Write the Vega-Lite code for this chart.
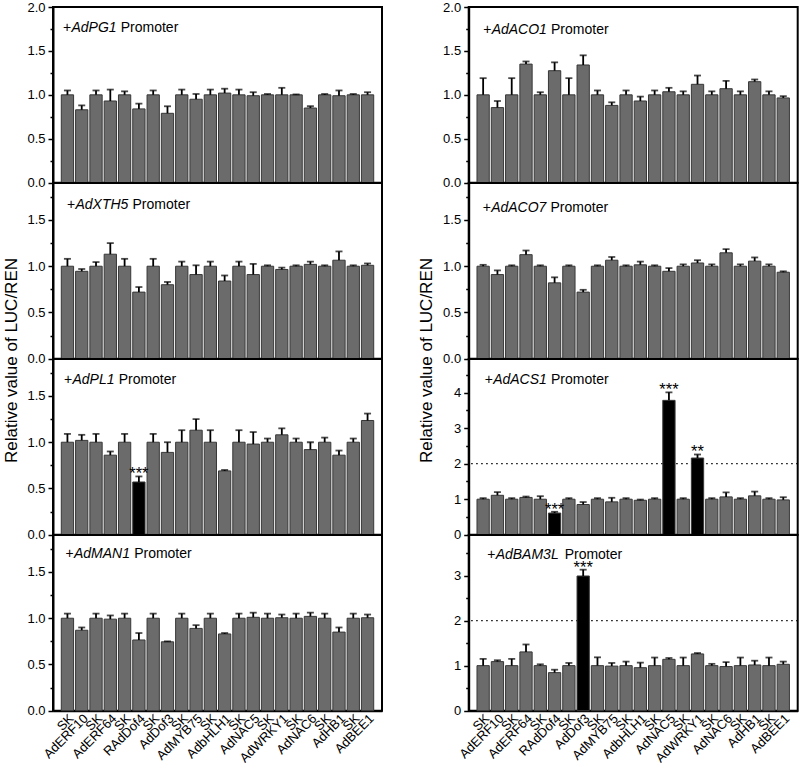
{
 "$schema": "https://vega.github.io/schema/vega-lite/v6.json",
 "background": "white",
 "padding": {"left": 0, "top": 0, "right": 0, "bottom": 0},
 "columns": 2,
 "spacing": {"row": 0, "column": 86.7},
 "bounds": "flush",
 "datasets": {
  "PG1": [{"i":0,"v":1.0,"hi":1.05},{"i":1,"v":0.83,"hi":0.88},{"i":2,"v":1.0,"hi":1.05},{"i":3,"v":0.93,"hi":1.06},{"i":4,"v":1.0,"hi":1.04},{"i":5,"v":0.84,"hi":0.90},{"i":6,"v":1.0,"hi":1.05},{"i":7,"v":0.79,"hi":0.87},{"i":8,"v":1.0,"hi":1.06},{"i":9,"v":0.95,"hi":1.01},{"i":10,"v":1.0,"hi":1.06},{"i":11,"v":1.02,"hi":1.07},{"i":12,"v":1.0,"hi":1.06},{"i":13,"v":0.99,"hi":1.03},{"i":14,"v":1.0,"hi":1.01},{"i":15,"v":1.0,"hi":1.08},{"i":16,"v":1.0,"hi":1.005},{"i":17,"v":0.85,"hi":0.87},{"i":18,"v":1.0,"hi":1.01},{"i":19,"v":0.99,"hi":1.05},{"i":20,"v":1.0,"hi":1.01},{"i":21,"v":1.0,"hi":1.03}],
  "XTH5": [{"i":0,"v":1.0,"hi":1.08},{"i":1,"v":0.945,"hi":0.97},{"i":2,"v":1.0,"hi":1.045},{"i":3,"v":1.13,"hi":1.25},{"i":4,"v":1.0,"hi":1.08},{"i":5,"v":0.72,"hi":0.775},{"i":6,"v":1.0,"hi":1.08},{"i":7,"v":0.80,"hi":0.83},{"i":8,"v":1.0,"hi":1.05},{"i":9,"v":0.91,"hi":1.01},{"i":10,"v":1.0,"hi":1.05},{"i":11,"v":0.84,"hi":0.90},{"i":12,"v":1.0,"hi":1.05},{"i":13,"v":0.91,"hi":1.025},{"i":14,"v":1.0,"hi":1.01},{"i":15,"v":0.965,"hi":0.985},{"i":16,"v":1.0,"hi":1.01},{"i":17,"v":1.02,"hi":1.05},{"i":18,"v":1.0,"hi":1.01},{"i":19,"v":1.065,"hi":1.16},{"i":20,"v":1.0,"hi":1.01},{"i":21,"v":1.01,"hi":1.03}],
  "PL1": [{"i":0,"v":1.0,"hi":1.09},{"i":1,"v":1.02,"hi":1.08},{"i":2,"v":1.0,"hi":1.09},{"i":3,"v":0.86,"hi":0.90},{"i":4,"v":1.0,"hi":1.09},{"i":5,"v":0.57,"hi":0.63,"s":"***"},{"i":6,"v":1.0,"hi":1.09},{"i":7,"v":0.89,"hi":1.0},{"i":8,"v":1.0,"hi":1.13},{"i":9,"v":1.13,"hi":1.25},{"i":10,"v":1.0,"hi":1.13},{"i":11,"v":0.69,"hi":0.70},{"i":12,"v":1.0,"hi":1.13},{"i":13,"v":0.98,"hi":1.11},{"i":14,"v":1.0,"hi":1.04},{"i":15,"v":1.08,"hi":1.15},{"i":16,"v":1.0,"hi":1.04},{"i":17,"v":0.92,"hi":1.0},{"i":18,"v":1.0,"hi":1.05},{"i":19,"v":0.86,"hi":0.91},{"i":20,"v":1.0,"hi":1.04},{"i":21,"v":1.235,"hi":1.31}],
  "MAN1": [{"i":0,"v":1.0,"hi":1.05},{"i":1,"v":0.87,"hi":0.90},{"i":2,"v":1.0,"hi":1.05},{"i":3,"v":0.99,"hi":1.03},{"i":4,"v":1.0,"hi":1.05},{"i":5,"v":0.765,"hi":0.84},{"i":6,"v":1.0,"hi":1.05},{"i":7,"v":0.745,"hi":0.75},{"i":8,"v":1.0,"hi":1.05},{"i":9,"v":0.89,"hi":0.925},{"i":10,"v":1.0,"hi":1.05},{"i":11,"v":0.83,"hi":0.84},{"i":12,"v":1.0,"hi":1.05},{"i":13,"v":1.01,"hi":1.06},{"i":14,"v":1.0,"hi":1.05},{"i":15,"v":1.005,"hi":1.04},{"i":16,"v":1.0,"hi":1.05},{"i":17,"v":1.02,"hi":1.06},{"i":18,"v":1.0,"hi":1.05},{"i":19,"v":0.85,"hi":0.90},{"i":20,"v":1.0,"hi":1.05},{"i":21,"v":1.005,"hi":1.04}],
  "ACO1": [{"i":0,"v":1.0,"hi":1.19},{"i":1,"v":0.855,"hi":0.93},{"i":2,"v":1.0,"hi":1.19},{"i":3,"v":1.35,"hi":1.38},{"i":4,"v":1.0,"hi":1.03},{"i":5,"v":1.275,"hi":1.37},{"i":6,"v":1.0,"hi":1.19},{"i":7,"v":1.34,"hi":1.45},{"i":8,"v":1.0,"hi":1.05},{"i":9,"v":0.88,"hi":0.915},{"i":10,"v":1.0,"hi":1.05},{"i":11,"v":0.93,"hi":0.98},{"i":12,"v":1.0,"hi":1.05},{"i":13,"v":1.035,"hi":1.08},{"i":14,"v":1.0,"hi":1.04},{"i":15,"v":1.12,"hi":1.22},{"i":16,"v":1.0,"hi":1.04},{"i":17,"v":1.07,"hi":1.16},{"i":18,"v":1.0,"hi":1.04},{"i":19,"v":1.15,"hi":1.175},{"i":20,"v":1.0,"hi":1.04},{"i":21,"v":0.965,"hi":0.985}],
  "ACO7": [{"i":0,"v":1.0,"hi":1.015},{"i":1,"v":0.91,"hi":0.955},{"i":2,"v":1.0,"hi":1.01},{"i":3,"v":1.125,"hi":1.17},{"i":4,"v":1.0,"hi":1.01},{"i":5,"v":0.82,"hi":0.88},{"i":6,"v":1.0,"hi":1.01},{"i":7,"v":0.72,"hi":0.745},{"i":8,"v":1.0,"hi":1.01},{"i":9,"v":1.065,"hi":1.10},{"i":10,"v":1.0,"hi":1.01},{"i":11,"v":1.015,"hi":1.05},{"i":12,"v":1.0,"hi":1.01},{"i":13,"v":0.945,"hi":0.98},{"i":14,"v":1.0,"hi":1.02},{"i":15,"v":1.035,"hi":1.065},{"i":16,"v":1.0,"hi":1.02},{"i":17,"v":1.145,"hi":1.185},{"i":18,"v":1.0,"hi":1.02},{"i":19,"v":1.055,"hi":1.095},{"i":20,"v":1.0,"hi":1.02},{"i":21,"v":0.935,"hi":0.945}],
  "ACS1": [{"i":0,"v":1.0,"hi":1.03},{"i":1,"v":1.11,"hi":1.2},{"i":2,"v":1.0,"hi":1.03},{"i":3,"v":1.05,"hi":1.075},{"i":4,"v":1.0,"hi":1.085},{"i":5,"v":0.61,"hi":0.645,"s":"***"},{"i":6,"v":1.0,"hi":1.03},{"i":7,"v":0.85,"hi":0.92},{"i":8,"v":1.0,"hi":1.03},{"i":9,"v":0.925,"hi":1.04},{"i":10,"v":1.0,"hi":1.03},{"i":11,"v":0.97,"hi":0.99},{"i":12,"v":1.0,"hi":1.03},{"i":13,"v":3.785,"hi":4.01,"s":"***"},{"i":14,"v":1.0,"hi":1.03},{"i":15,"v":2.16,"hi":2.26,"s":"**"},{"i":16,"v":1.0,"hi":1.03},{"i":17,"v":1.065,"hi":1.19},{"i":18,"v":1.0,"hi":1.03},{"i":19,"v":1.095,"hi":1.215},{"i":20,"v":1.0,"hi":1.03},{"i":21,"v":0.98,"hi":1.056}],
  "BAM3L": [{"i":0,"v":1.0,"hi":1.15},{"i":1,"v":1.09,"hi":1.12},{"i":2,"v":1.0,"hi":1.15},{"i":3,"v":1.305,"hi":1.47},{"i":4,"v":1.0,"hi":1.03},{"i":5,"v":0.845,"hi":0.91},{"i":6,"v":1.0,"hi":1.06},{"i":7,"v":2.99,"hi":3.13,"s":"***"},{"i":8,"v":1.0,"hi":1.185},{"i":9,"v":0.99,"hi":1.06},{"i":10,"v":1.0,"hi":1.09},{"i":11,"v":0.955,"hi":1.067},{"i":12,"v":1.0,"hi":1.18},{"i":13,"v":1.14,"hi":1.17},{"i":14,"v":1.0,"hi":1.18},{"i":15,"v":1.26,"hi":1.28},{"i":16,"v":1.0,"hi":1.04},{"i":17,"v":0.98,"hi":1.08},{"i":18,"v":1.0,"hi":1.18},{"i":19,"v":1.015,"hi":1.11},{"i":20,"v":1.0,"hi":1.18},{"i":21,"v":1.03,"hi":1.09}]
 },
 "concat": [
  {"width":329,"height":175.7,"data":{"name":"PG1"},"resolve":{"axis":{"y":"independent"}},
   "layer":[
    {"mark":{"type":"bar","stroke":"#383838","strokeWidth":1},
     "encoding":{"x":{"field":"i","type":"ordinal","scale":{"paddingInner":0.14,"paddingOuter":0.58},"axis":null},
      "y":{"field":"v","type":"quantitative","scale":{"domain":[0,2],"nice":false},"axis":{"orient":"left","values":[0,0.5,1,1.5,2],"format":".1f","title":null}},
      "fill":{"condition":{"test":"datum.s","value":"#000000"},"value":"#6b6b6b"}}},
    {"mark":{"type":"rule","color":"#000","strokeWidth":1.8},
     "encoding":{"x":{"field":"i","type":"ordinal"},"y":{"field":"v","type":"quantitative","axis":{"orient":"left","values":[0.25,0.75,1.25,1.75],"labels":false,"domain":false,"tickSize":3,"title":null}},"y2":{"field":"hi"}}},
    {"mark":{"type":"tick","color":"#000","thickness":1.8,"size":7},
     "encoding":{"x":{"field":"i","type":"ordinal"},"y":{"field":"hi","type":"quantitative","axis":null}}},
    {"data":{"values":[{"g":"AdPG1"}]},"mark":{"type":"text","text":"+","align":"left","fontSize":14,"dx":-4.5},
     "encoding":{"x":{"datum":0,"type":"ordinal"},"y":{"datum":1.715,"type":"quantitative","axis":null}}},
    {"data":{"values":[{"g":"AdPG1"}]},"mark":{"type":"text","align":"left","fontSize":14,"fontStyle":"italic","dx":4},
     "encoding":{"x":{"datum":0,"type":"ordinal"},"y":{"datum":1.715,"type":"quantitative","axis":null},"text":{"field":"g"}}},
    {"data":{"values":[{"g":"AdPG1"}]},"mark":{"type":"text","text":"Promoter","align":"left","fontSize":14,"dx":53.3},
     "encoding":{"x":{"datum":0,"type":"ordinal"},"y":{"datum":1.715,"type":"quantitative","axis":null}}}
   ]},
  {"width":329,"height":175.7,"data":{"name":"ACO1"},"resolve":{"axis":{"y":"independent"}},
   "layer":[
    {"mark":{"type":"bar","stroke":"#383838","strokeWidth":1},
     "encoding":{"x":{"field":"i","type":"ordinal","scale":{"paddingInner":0.14,"paddingOuter":0.58},"axis":null},
      "y":{"field":"v","type":"quantitative","scale":{"domain":[0,2],"nice":false},"axis":{"orient":"left","values":[0,0.5,1,1.5,2],"format":".1f","title":null}},
      "fill":{"condition":{"test":"datum.s","value":"#000000"},"value":"#6b6b6b"}}},
    {"mark":{"type":"rule","color":"#000","strokeWidth":1.8},
     "encoding":{"x":{"field":"i","type":"ordinal"},"y":{"field":"v","type":"quantitative","axis":{"orient":"left","values":[0.25,0.75,1.25,1.75],"labels":false,"domain":false,"tickSize":3,"title":null}},"y2":{"field":"hi"}}},
    {"mark":{"type":"tick","color":"#000","thickness":1.8,"size":7},
     "encoding":{"x":{"field":"i","type":"ordinal"},"y":{"field":"hi","type":"quantitative","axis":null}}},
    {"data":{"values":[{"g":"AdACO1"}]},"mark":{"type":"text","text":"+","align":"left","fontSize":14,"dx":0},
     "encoding":{"x":{"datum":0,"type":"ordinal"},"y":{"datum":1.69,"type":"quantitative","axis":null}}},
    {"data":{"values":[{"g":"AdACO1"}]},"mark":{"type":"text","align":"left","fontSize":14,"fontStyle":"italic","dx":8.5},
     "encoding":{"x":{"datum":0,"type":"ordinal"},"y":{"datum":1.69,"type":"quantitative","axis":null},"text":{"field":"g"}}},
    {"data":{"values":[{"g":"AdACO1"}]},"mark":{"type":"text","text":"Promoter","align":"left","fontSize":14,"dx":67.9},
     "encoding":{"x":{"datum":0,"type":"ordinal"},"y":{"datum":1.69,"type":"quantitative","axis":null}}}
   ]},
  {"width":329,"height":175.7,"data":{"name":"XTH5"},"resolve":{"axis":{"y":"independent"}},
   "layer":[
    {"mark":{"type":"bar","stroke":"#383838","strokeWidth":1},
     "encoding":{"x":{"field":"i","type":"ordinal","scale":{"paddingInner":0.14,"paddingOuter":0.58},"axis":null},
      "y":{"field":"v","type":"quantitative","scale":{"domain":[0,1.9],"nice":false},"axis":{"orient":"left","values":[0,0.5,1,1.5],"format":".1f","title":null}},
      "fill":{"condition":{"test":"datum.s","value":"#000000"},"value":"#6b6b6b"}}},
    {"mark":{"type":"rule","color":"#000","strokeWidth":1.8},
     "encoding":{"x":{"field":"i","type":"ordinal"},"y":{"field":"v","type":"quantitative","axis":{"orient":"left","values":[0.25,0.75,1.25,1.75],"labels":false,"domain":false,"tickSize":3,"title":null}},"y2":{"field":"hi"}}},
    {"mark":{"type":"tick","color":"#000","thickness":1.8,"size":7},
     "encoding":{"x":{"field":"i","type":"ordinal"},"y":{"field":"hi","type":"quantitative","axis":null}}},
    {"data":{"values":[{"g":"AdXTH5"}]},"mark":{"type":"text","text":"+","align":"left","fontSize":14,"dx":-0.5},
     "encoding":{"x":{"datum":0,"type":"ordinal"},"y":{"datum":1.617,"type":"quantitative","axis":null}}},
    {"data":{"values":[{"g":"AdXTH5"}]},"mark":{"type":"text","align":"left","fontSize":14,"fontStyle":"italic","dx":8},
     "encoding":{"x":{"datum":0,"type":"ordinal"},"y":{"datum":1.617,"type":"quantitative","axis":null},"text":{"field":"g"}}},
    {"data":{"values":[{"g":"AdXTH5"}]},"mark":{"type":"text","text":"Promoter","align":"left","fontSize":14,"dx":65.1},
     "encoding":{"x":{"datum":0,"type":"ordinal"},"y":{"datum":1.617,"type":"quantitative","axis":null}}}
   ]},
  {"width":329,"height":175.7,"data":{"name":"ACO7"},"resolve":{"axis":{"y":"independent"}},
   "layer":[
    {"mark":{"type":"bar","stroke":"#383838","strokeWidth":1},
     "encoding":{"x":{"field":"i","type":"ordinal","scale":{"paddingInner":0.14,"paddingOuter":0.58},"axis":null},
      "y":{"field":"v","type":"quantitative","scale":{"domain":[0,1.9],"nice":false},"axis":{"orient":"left","values":[0,0.5,1,1.5],"format":".1f","title":null}},
      "fill":{"condition":{"test":"datum.s","value":"#000000"},"value":"#6b6b6b"}}},
    {"mark":{"type":"rule","color":"#000","strokeWidth":1.8},
     "encoding":{"x":{"field":"i","type":"ordinal"},"y":{"field":"v","type":"quantitative","axis":{"orient":"left","values":[0.25,0.75,1.25,1.75],"labels":false,"domain":false,"tickSize":3,"title":null}},"y2":{"field":"hi"}}},
    {"mark":{"type":"tick","color":"#000","thickness":1.8,"size":7},
     "encoding":{"x":{"field":"i","type":"ordinal"},"y":{"field":"hi","type":"quantitative","axis":null}}},
    {"data":{"values":[{"g":"AdACO7"}]},"mark":{"type":"text","text":"+","align":"left","fontSize":14,"dx":-0.5},
     "encoding":{"x":{"datum":0,"type":"ordinal"},"y":{"datum":1.59,"type":"quantitative","axis":null}}},
    {"data":{"values":[{"g":"AdACO7"}]},"mark":{"type":"text","align":"left","fontSize":14,"fontStyle":"italic","dx":8},
     "encoding":{"x":{"datum":0,"type":"ordinal"},"y":{"datum":1.59,"type":"quantitative","axis":null},"text":{"field":"g"}}},
    {"data":{"values":[{"g":"AdACO7"}]},"mark":{"type":"text","text":"Promoter","align":"left","fontSize":14,"dx":67.4},
     "encoding":{"x":{"datum":0,"type":"ordinal"},"y":{"datum":1.59,"type":"quantitative","axis":null}}}
   ]},
  {"width":329,"height":175.7,"data":{"name":"PL1"},"resolve":{"axis":{"y":"independent"}},
   "layer":[
    {"mark":{"type":"bar","stroke":"#383838","strokeWidth":1},
     "encoding":{"x":{"field":"i","type":"ordinal","scale":{"paddingInner":0.14,"paddingOuter":0.58},"axis":null},
      "y":{"field":"v","type":"quantitative","scale":{"domain":[0,1.9],"nice":false},"axis":{"orient":"left","values":[0,0.5,1,1.5],"format":".1f","title":"Relative value of LUC/REN","titleX":-37,"titleY":1,"titleAngle":-90,"titleAlign":"center","titleBaseline":"alphabetic"}},
      "fill":{"condition":{"test":"datum.s","value":"#000000"},"value":"#6b6b6b"}}},
    {"mark":{"type":"rule","color":"#000","strokeWidth":1.8},
     "encoding":{"x":{"field":"i","type":"ordinal"},"y":{"field":"v","type":"quantitative","axis":{"orient":"left","values":[0.25,0.75,1.25,1.75],"labels":false,"domain":false,"tickSize":3,"title":null}},"y2":{"field":"hi"}}},
    {"mark":{"type":"tick","color":"#000","thickness":1.8,"size":7},
     "encoding":{"x":{"field":"i","type":"ordinal"},"y":{"field":"hi","type":"quantitative","axis":null}}},
    {"transform":[{"filter":"datum.s"}],"mark":{"type":"text","align":"center","fontSize":16.5,"dy":3,"color":"#000"},
     "encoding":{"x":{"field":"i","type":"ordinal"},"y":{"field":"hi","type":"quantitative","axis":null},"text":{"field":"s"}}},
    {"data":{"values":[{"g":"AdPL1"}]},"mark":{"type":"text","text":"+","align":"left","fontSize":14,"dx":-3.5},
     "encoding":{"x":{"datum":0,"type":"ordinal"},"y":{"datum":1.63,"type":"quantitative","axis":null}}},
    {"data":{"values":[{"g":"AdPL1"}]},"mark":{"type":"text","align":"left","fontSize":14,"fontStyle":"italic","dx":5},
     "encoding":{"x":{"datum":0,"type":"ordinal"},"y":{"datum":1.63,"type":"quantitative","axis":null},"text":{"field":"g"}}},
    {"data":{"values":[{"g":"AdPL1"}]},"mark":{"type":"text","text":"Promoter","align":"left","fontSize":14,"dx":51.2},
     "encoding":{"x":{"datum":0,"type":"ordinal"},"y":{"datum":1.63,"type":"quantitative","axis":null}}}
   ]},
  {"width":329,"height":175.7,"data":{"name":"ACS1"},"resolve":{"axis":{"y":"independent"}},
   "layer":[
    {"data":{"values":[{"ref":2}]},"mark":{"type":"rule","color":"#000","strokeWidth":1.3,"strokeDash":[1.5,3.5]},
     "encoding":{"y":{"field":"ref","type":"quantitative","axis":null}}},
    {"mark":{"type":"bar","stroke":"#383838","strokeWidth":1},
     "encoding":{"x":{"field":"i","type":"ordinal","scale":{"paddingInner":0.14,"paddingOuter":0.58},"axis":null},
      "y":{"field":"v","type":"quantitative","scale":{"domain":[0,4.95],"nice":false},"axis":{"orient":"left","values":[0,1,2,3,4],"format":"d","title":"Relative value of LUC/REN","titleX":-37,"titleY":1,"titleAngle":-90,"titleAlign":"center","titleBaseline":"alphabetic"}},
      "fill":{"condition":{"test":"datum.s","value":"#000000"},"value":"#6b6b6b"}}},
    {"mark":{"type":"rule","color":"#000","strokeWidth":1.8},
     "encoding":{"x":{"field":"i","type":"ordinal"},"y":{"field":"v","type":"quantitative","axis":{"orient":"left","values":[0.5,1.5,2.5,3.5,4.5],"labels":false,"domain":false,"tickSize":3,"title":null}},"y2":{"field":"hi"}}},
    {"mark":{"type":"tick","color":"#000","thickness":1.8,"size":7},
     "encoding":{"x":{"field":"i","type":"ordinal"},"y":{"field":"hi","type":"quantitative","axis":null}}},
    {"transform":[{"filter":"datum.s"}],"mark":{"type":"text","align":"center","fontSize":16.5,"dy":3,"color":"#000"},
     "encoding":{"x":{"field":"i","type":"ordinal"},"y":{"field":"hi","type":"quantitative","axis":null},"text":{"field":"s"}}},
    {"data":{"values":[{"g":"AdACS1"}]},"mark":{"type":"text","text":"+","align":"left","fontSize":14,"dx":1.5},
     "encoding":{"x":{"datum":0,"type":"ordinal"},"y":{"datum":4.24,"type":"quantitative","axis":null}}},
    {"data":{"values":[{"g":"AdACS1"}]},"mark":{"type":"text","align":"left","fontSize":14,"fontStyle":"italic","dx":10},
     "encoding":{"x":{"datum":0,"type":"ordinal"},"y":{"datum":4.24,"type":"quantitative","axis":null},"text":{"field":"g"}}},
    {"data":{"values":[{"g":"AdACS1"}]},"mark":{"type":"text","text":"Promoter","align":"left","fontSize":14,"dx":67.9},
     "encoding":{"x":{"datum":0,"type":"ordinal"},"y":{"datum":4.24,"type":"quantitative","axis":null}}}
   ]},
  {"width":329,"height":175.7,"data":{"name":"MAN1"},"resolve":{"axis":{"y":"independent"}},
   "layer":[
    {"mark":{"type":"bar","stroke":"#383838","strokeWidth":1},
     "encoding":{"x":{"field":"i","type":"ordinal","scale":{"paddingInner":0.14,"paddingOuter":0.58},
        "axis":{"title":null,"ticks":false,"labelAngle":-45,"labelAlign":"right","labelBaseline":"top","labelPadding":1,"labelFontSize":13,"labelOverlap":false,"labelBound":false,
          "labelExpr":"['SK','AdERF10','SK','AdERF64','SK','RAdDof4','SK','AdDof3','SK','AdMYB75','SK','AdbHLH1','SK','AdNAC5','SK','AdWRKY1','SK','AdNAC6','SK','AdHB1','SK','AdBEE1'][datum.value]"}},
      "y":{"field":"v","type":"quantitative","scale":{"domain":[0,1.9],"nice":false},"axis":{"orient":"left","values":[0,0.5,1,1.5],"format":".1f","title":null}},
      "fill":{"condition":{"test":"datum.s","value":"#000000"},"value":"#6b6b6b"}}},
    {"mark":{"type":"rule","color":"#000","strokeWidth":1.8},
     "encoding":{"x":{"field":"i","type":"ordinal"},"y":{"field":"v","type":"quantitative","axis":{"orient":"left","values":[0.25,0.75,1.25,1.75],"labels":false,"domain":false,"tickSize":3,"title":null}},"y2":{"field":"hi"}}},
    {"mark":{"type":"tick","color":"#000","thickness":1.8,"size":7},
     "encoding":{"x":{"field":"i","type":"ordinal"},"y":{"field":"hi","type":"quantitative","axis":null}}},
    {"data":{"values":[{"g":"AdMAN1"}]},"mark":{"type":"text","text":"+","align":"left","fontSize":14,"dx":-2},
     "encoding":{"x":{"datum":0,"type":"ordinal"},"y":{"datum":1.65,"type":"quantitative","axis":null}}},
    {"data":{"values":[{"g":"AdMAN1"}]},"mark":{"type":"text","align":"left","fontSize":14,"fontStyle":"italic","dx":6.5},
     "encoding":{"x":{"datum":0,"type":"ordinal"},"y":{"datum":1.65,"type":"quantitative","axis":null},"text":{"field":"g"}}},
    {"data":{"values":[{"g":"AdMAN1"}]},"mark":{"type":"text","text":"Promoter","align":"left","fontSize":14,"dx":66.7},
     "encoding":{"x":{"datum":0,"type":"ordinal"},"y":{"datum":1.65,"type":"quantitative","axis":null}}}
   ]},
  {"width":329,"height":175.7,"data":{"name":"BAM3L"},"resolve":{"axis":{"y":"independent"}},
   "layer":[
    {"data":{"values":[{"ref":2}]},"mark":{"type":"rule","color":"#000","strokeWidth":1.3,"strokeDash":[1.5,3.5]},
     "encoding":{"y":{"field":"ref","type":"quantitative","axis":null}}},
    {"mark":{"type":"bar","stroke":"#383838","strokeWidth":1},
     "encoding":{"x":{"field":"i","type":"ordinal","scale":{"paddingInner":0.14,"paddingOuter":0.58},
        "axis":{"title":null,"ticks":false,"labelAngle":-45,"labelAlign":"right","labelBaseline":"top","labelPadding":1,"labelFontSize":13,"labelOverlap":false,"labelBound":false,
          "labelExpr":"['SK','AdERF10','SK','AdERF64','SK','RAdDof4','SK','AdDof3','SK','AdMYB75','SK','AdbHLH1','SK','AdNAC5','SK','AdWRKY1','SK','AdNAC6','SK','AdHB1','SK','AdBEE1'][datum.value]"}},
      "y":{"field":"v","type":"quantitative","scale":{"domain":[0,3.9],"nice":false},"axis":{"orient":"left","values":[0,1,2,3],"format":"d","title":null}},
      "fill":{"condition":{"test":"datum.s","value":"#000000"},"value":"#6b6b6b"}}},
    {"mark":{"type":"rule","color":"#000","strokeWidth":1.8},
     "encoding":{"x":{"field":"i","type":"ordinal"},"y":{"field":"v","type":"quantitative","axis":{"orient":"left","values":[0.5,1.5,2.5,3.5],"labels":false,"domain":false,"tickSize":3,"title":null}},"y2":{"field":"hi"}}},
    {"mark":{"type":"tick","color":"#000","thickness":1.8,"size":7},
     "encoding":{"x":{"field":"i","type":"ordinal"},"y":{"field":"hi","type":"quantitative","axis":null}}},
    {"transform":[{"filter":"datum.s"}],"mark":{"type":"text","align":"center","fontSize":16.5,"dy":3,"color":"#000"},
     "encoding":{"x":{"field":"i","type":"ordinal"},"y":{"field":"hi","type":"quantitative","axis":null},"text":{"field":"s"}}},
    {"data":{"values":[{"g":"AdBAM3L"}]},"mark":{"type":"text","text":"+","align":"left","fontSize":14,"dx":4},
     "encoding":{"x":{"datum":0,"type":"ordinal"},"y":{"datum":3.37,"type":"quantitative","axis":null}}},
    {"data":{"values":[{"g":"AdBAM3L"}]},"mark":{"type":"text","align":"left","fontSize":14,"fontStyle":"italic","dx":12.5},
     "encoding":{"x":{"datum":0,"type":"ordinal"},"y":{"datum":3.37,"type":"quantitative","axis":null},"text":{"field":"g"}}},
    {"data":{"values":[{"g":"AdBAM3L"}]},"mark":{"type":"text","text":"Promoter","align":"left","fontSize":14,"dx":81.5},
     "encoding":{"x":{"datum":0,"type":"ordinal"},"y":{"datum":3.37,"type":"quantitative","axis":null}}}
   ]}
 ],
 "config": {
  "view": {"stroke": "#000", "strokeWidth": 2},
  "axis": {"domainColor": "#000", "domainWidth": 2, "tickColor": "#000", "tickWidth": 1.5, "tickSize": 5, "labelColor": "#000", "titleColor": "#000", "labelFont": "Liberation Sans", "titleFont": "Liberation Sans", "labelFontSize": 13, "labelPadding": 3, "grid": false, "titleFontWeight": "normal", "titleFontSize": 17},
  "text": {"font": "Liberation Sans", "color": "#000", "baseline": "alphabetic"}
 }
}
